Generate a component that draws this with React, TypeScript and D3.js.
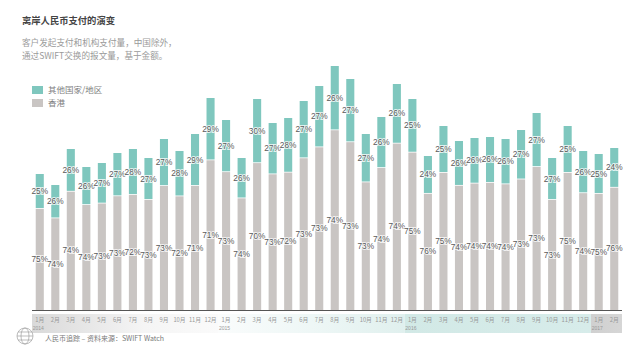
import React from "react";
import * as d3 from "d3";

const months = [
  "1月","2月","3月","4月","5月","6月","7月","8月","9月","10月","11月","12月",
  "1月","2月","3月","4月","5月","6月","7月","8月","9月","10月","11月","12月",
  "1月","2月","3月","4月","5月","6月","7月","8月","9月","10月","11月","12月",
  "1月","2月",
];
const years = ["2014", "2015", "2016", "2017"];
const yearStart = [0, 12, 24, 36];
// relative total payment volume (index)
const totals = [
  136,125,161,143,147,157,161,152,171,159,176,212,
  190,152,211,187,192,209,224,244,231,176,193,226,
  211,154,184,169,172,173,171,180,197,152,184,159,
  156,162,
];
const otherPct = [
  25,26,26,26,27,27,28,27,27,28,29,29,
  27,26,30,27,28,27,27,26,27,27,26,26,
  25,24,25,26,26,26,26,27,27,27,25,26,
  25,24,
];
const hkPct = [
  75,74,74,74,73,73,72,73,73,72,71,71,
  73,74,70,73,72,73,73,74,73,73,74,74,
  75,76,75,74,74,74,74,73,73,73,75,74,
  75,76,
];
const legendLabels = ["其他国家/地区", "香港"];

const TEAL = "#7fc7be";
const GRAY = "#c9c5c3";
const FONT = "'Liberation Sans', 'Noto Sans CJK SC', sans-serif";
const CJK = "'Noto Sans CJK SC', 'Liberation Sans', sans-serif";

export default function App() {
  const idx = months.map((_, i) => i);
  const x = d3.scaleBand<number>().domain(idx).range([32, 622]).paddingInner(0.48).paddingOuter(0.24);
  const y = d3.scaleLinear().domain([0, 250]).range([310, 60]);
  const bw = x.bandwidth();
  const step = x.step();
  const yearBands = years.map((yr, k) => {
    const s = yearStart[k];
    const e = k < years.length - 1 ? yearStart[k + 1] - 1 : months.length - 1;
    const x0 = k === 0 ? 32 : (x(s) as number) - (step - bw) / 2;
    const x1 = k === years.length - 1 ? 622 : (x(e) as number) + bw + (step - bw) / 2;
    return { yr, x0, x1, s };
  });
  const bandFills = ["url(#g2014)", "url(#g2015)", "url(#g2016)", "url(#g2017)"];

  return (
    <svg width={640} height={360} style={{ position: "absolute", left: 0, top: 0, background: "#fff" }}>
      <defs>
        <linearGradient id="g2014" x1="0" x2="1" y1="0" y2="0">
          <stop offset="0" stopColor="#d9d9d9" />
          <stop offset="0.6" stopColor="#f5f5f5" />
          <stop offset="1" stopColor="#fafafa" />
        </linearGradient>
        <linearGradient id="g2015" x1="0" x2="1" y1="0" y2="0">
          <stop offset="0" stopColor="#fafcfc" />
          <stop offset="0.5" stopColor="#eef7f6" />
          <stop offset="1" stopColor="#e0f0ee" />
        </linearGradient>
        <linearGradient id="g2016" x1="0" x2="1" y1="0" y2="0">
          <stop offset="0" stopColor="#d2e9e6" />
          <stop offset="1" stopColor="#d7ecea" />
        </linearGradient>
        <linearGradient id="g2017" x1="0" x2="1" y1="0" y2="0">
          <stop offset="0" stopColor="#d0d0d0" />
          <stop offset="1" stopColor="#d6d6d6" />
        </linearGradient>
      </defs>

      {/* title */}
      <text x={22} y={24} fontFamily={CJK} fontSize={9.3} fontWeight={700} fill="#444">离岸人民币支付的演变</text>
      <text x={22} y={45.5} fontFamily={CJK} fontSize={8.6} fill="#9a9a9a">客户发起支付和机构支付量，中国除外，</text>
      <text x={22} y={58.5} fontFamily={CJK} fontSize={8.6} fill="#9a9a9a">通过SWIFT交换的报文量，基于金额。</text>

      {/* legend */}
      <rect x={32} y={86} width={11} height={8} fill={TEAL} />
      <text x={48} y={93.2} fontFamily={CJK} fontSize={8.5} fill="#808080">{legendLabels[0]}</text>
      <rect x={32} y={99} width={11} height={8} fill={GRAY} />
      <text x={48} y={106.2} fontFamily={CJK} fontSize={8.5} fill="#808080">{legendLabels[1]}</text>

      {/* year bands */}
      {yearBands.map((b, k) => (
        <rect key={b.yr} x={b.x0} y={314} width={b.x1 - b.x0} height={19} fill={bandFills[k]} />
      ))}

      {/* bars */}
      {idx.map((i) => {
        const bx = x(i) as number;
        const top = y(totals[i]);
        const split = y(totals[i] * hkPct[i] / 100);
        const base = y(0);
        return (
          <g key={i}>
            <rect x={bx} y={top} width={bw} height={split - top} fill={TEAL} />
            <rect x={bx} y={split + 0.8} width={bw} height={base - split - 0.8} fill={GRAY} />
          </g>
        );
      })}

      {/* labels */}
      {idx.map((i) => {
        const cx = (x(i) as number) + bw / 2;
        const top = y(totals[i]);
        const split = y(totals[i] * hkPct[i] / 100);
        const base = y(0);
        const common = {
          textAnchor: "middle" as const,
          fontFamily: FONT,
          fontSize: 8.3,
          fill: "#5a5a5a",
          stroke: "rgba(255,255,255,0.75)",
          strokeWidth: 2,
          paintOrder: "stroke" as const,
          dominantBaseline: "central" as const,
        };
        return (
          <g key={"l" + i}>
            <text x={cx} y={(top + split) / 2} {...common}>{otherPct[i]}%</text>
            <text x={cx} y={(split + base) / 2} {...common}>{hkPct[i]}%</text>
          </g>
        );
      })}

      {/* axis */}
      <line x1={32} x2={622} y1={310.5} y2={310.5} stroke="#555" strokeWidth={1} />
      {idx.map((i) => (
        <text key={"m" + i} x={(x(i) as number) + bw / 2} y={321.5} textAnchor="middle"
          fontFamily={CJK} fontSize={5.8} fill="#999">{months[i]}</text>
      ))}
      {yearBands.map((b) => (
        <text key={"y" + b.yr} x={(x(b.s) as number) - 3} y={329.5} fontFamily={FONT} fontSize={5} fill="#999">{b.yr}</text>
      ))}

      {/* footer logo */}
      <g transform="translate(25,336)" stroke="#a0a0a0" fill="none" strokeWidth={0.7}>
        <circle r={8} />
        <ellipse rx={4} ry={8} />
        <line x1={-8} x2={8} y1={0} y2={0} />
        <line x1={-7} x2={7} y1={-4} y2={-4} />
        <line x1={-7} x2={7} y1={4} y2={4} />
      </g>
      <text x={45} y={340.5} fontFamily={CJK} fontSize={7} fill="#7a7a7a">人民币追踪 – 资料来源：SWIFT Watch</text>
    </svg>
  );
}
